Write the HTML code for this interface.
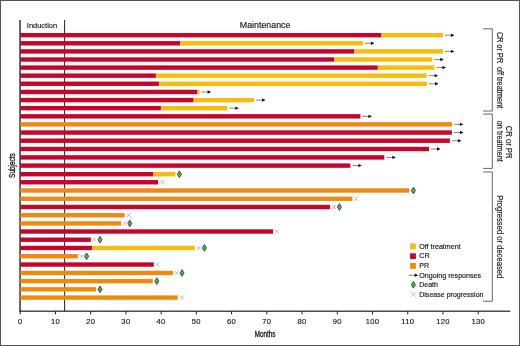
<!DOCTYPE html>
<html><head><meta charset="utf-8"><title>Swimmer plot</title>
<style>html,body{margin:0;padding:0;background:#fff}svg{display:block}</style></head>
<body>
<svg width="520" height="346" viewBox="0 0 520 346" font-family="Liberation Sans, Arial, sans-serif" fill="#151515" stroke="#151515" stroke-width="0">
<rect x="0" y="0" width="520" height="346" fill="#fff"/>
<rect x="19.3" y="20" width="1.5" height="291.6" fill="#333"/>
<rect x="19.5" y="310.6" width="490.8" height="1.2" fill="#222"/>
<rect x="19.70" y="311" width="1" height="3.4" fill="#222"/>
<text stroke-width="0.15" x="20.20" y="323.9" font-size="7.6" text-anchor="middle" letter-spacing="0.3">0</text>
<rect x="54.93" y="311" width="1" height="3.4" fill="#222"/>
<text stroke-width="0.15" x="55.43" y="323.9" font-size="7.6" text-anchor="middle" letter-spacing="0.3">10</text>
<rect x="90.16" y="311" width="1" height="3.4" fill="#222"/>
<text stroke-width="0.15" x="90.66" y="323.9" font-size="7.6" text-anchor="middle" letter-spacing="0.3">20</text>
<rect x="125.39" y="311" width="1" height="3.4" fill="#222"/>
<text stroke-width="0.15" x="125.89" y="323.9" font-size="7.6" text-anchor="middle" letter-spacing="0.3">30</text>
<rect x="160.62" y="311" width="1" height="3.4" fill="#222"/>
<text stroke-width="0.15" x="161.12" y="323.9" font-size="7.6" text-anchor="middle" letter-spacing="0.3">40</text>
<rect x="195.85" y="311" width="1" height="3.4" fill="#222"/>
<text stroke-width="0.15" x="196.35" y="323.9" font-size="7.6" text-anchor="middle" letter-spacing="0.3">50</text>
<rect x="231.08" y="311" width="1" height="3.4" fill="#222"/>
<text stroke-width="0.15" x="231.58" y="323.9" font-size="7.6" text-anchor="middle" letter-spacing="0.3">60</text>
<rect x="266.31" y="311" width="1" height="3.4" fill="#222"/>
<text stroke-width="0.15" x="266.81" y="323.9" font-size="7.6" text-anchor="middle" letter-spacing="0.3">70</text>
<rect x="301.54" y="311" width="1" height="3.4" fill="#222"/>
<text stroke-width="0.15" x="302.04" y="323.9" font-size="7.6" text-anchor="middle" letter-spacing="0.3">80</text>
<rect x="336.77" y="311" width="1" height="3.4" fill="#222"/>
<text stroke-width="0.15" x="337.27" y="323.9" font-size="7.6" text-anchor="middle" letter-spacing="0.3">90</text>
<rect x="372.00" y="311" width="1" height="3.4" fill="#222"/>
<text stroke-width="0.15" x="372.50" y="323.9" font-size="7.6" text-anchor="middle" letter-spacing="0.3">100</text>
<rect x="407.23" y="311" width="1" height="3.4" fill="#222"/>
<text stroke-width="0.15" x="407.73" y="323.9" font-size="7.6" text-anchor="middle" letter-spacing="0.3">110</text>
<rect x="442.46" y="311" width="1" height="3.4" fill="#222"/>
<text stroke-width="0.15" x="442.96" y="323.9" font-size="7.6" text-anchor="middle" letter-spacing="0.3">120</text>
<rect x="477.69" y="311" width="1" height="3.4" fill="#222"/>
<text stroke-width="0.15" x="478.19" y="323.9" font-size="7.6" text-anchor="middle" letter-spacing="0.3">130</text>
<rect x="64.1" y="20" width="1" height="291" fill="#222"/>
<rect x="20.20" y="33.00" width="361.10" height="4.4" fill="#c4062a"/>
<rect x="381.30" y="33.00" width="61.60" height="4.4" fill="#f6bc12"/>
<line x1="444.90" y1="35.20" x2="451.90" y2="35.20" stroke="#333" stroke-width="0.6"/><path d="M450.90 33.50L454.50 35.20L450.90 36.90Z" fill="#111" stroke="none"/>
<rect x="20.20" y="41.10" width="160.10" height="4.4" fill="#c4062a"/>
<rect x="180.30" y="41.10" width="182.60" height="4.4" fill="#f6bc12"/>
<line x1="364.90" y1="43.30" x2="371.90" y2="43.30" stroke="#333" stroke-width="0.6"/><path d="M370.90 41.60L374.50 43.30L370.90 45.00Z" fill="#111" stroke="none"/>
<rect x="20.20" y="49.20" width="334.20" height="4.4" fill="#c4062a"/>
<rect x="354.40" y="49.20" width="88.50" height="4.4" fill="#f6bc12"/>
<line x1="444.90" y1="51.40" x2="451.90" y2="51.40" stroke="#333" stroke-width="0.6"/><path d="M450.90 49.70L454.50 51.40L450.90 53.10Z" fill="#111" stroke="none"/>
<rect x="20.20" y="57.30" width="314.10" height="4.4" fill="#c4062a"/>
<rect x="334.30" y="57.30" width="98.00" height="4.4" fill="#f6bc12"/>
<line x1="434.30" y1="59.50" x2="441.30" y2="59.50" stroke="#333" stroke-width="0.6"/><path d="M440.30 57.80L443.90 59.50L440.30 61.20Z" fill="#111" stroke="none"/>
<rect x="20.20" y="65.40" width="357.60" height="4.4" fill="#c4062a"/>
<rect x="377.80" y="65.40" width="56.60" height="4.4" fill="#f6bc12"/>
<line x1="436.40" y1="67.60" x2="443.40" y2="67.60" stroke="#333" stroke-width="0.6"/><path d="M442.40 65.90L446.00 67.60L442.40 69.30Z" fill="#111" stroke="none"/>
<rect x="20.20" y="73.45" width="135.70" height="4.4" fill="#c4062a"/>
<rect x="155.90" y="73.45" width="270.70" height="4.4" fill="#f6bc12"/>
<line x1="428.60" y1="75.65" x2="435.60" y2="75.65" stroke="#333" stroke-width="0.6"/><path d="M434.60 73.95L438.20 75.65L434.60 77.35Z" fill="#111" stroke="none"/>
<rect x="20.20" y="81.55" width="138.70" height="4.4" fill="#c4062a"/>
<rect x="158.90" y="81.55" width="268.10" height="4.4" fill="#f6bc12"/>
<line x1="429.00" y1="83.75" x2="436.00" y2="83.75" stroke="#333" stroke-width="0.6"/><path d="M435.00 82.05L438.60 83.75L435.00 85.45Z" fill="#111" stroke="none"/>
<rect x="20.20" y="89.75" width="177.20" height="4.4" fill="#c4062a"/>
<rect x="197.40" y="89.75" width="2.20" height="4.4" fill="#f6bc12"/>
<line x1="201.60" y1="91.95" x2="208.60" y2="91.95" stroke="#333" stroke-width="0.6"/><path d="M207.60 90.25L211.20 91.95L207.60 93.65Z" fill="#111" stroke="none"/>
<rect x="20.20" y="97.90" width="173.40" height="4.4" fill="#c4062a"/>
<rect x="193.60" y="97.90" width="60.40" height="4.4" fill="#f6bc12"/>
<line x1="256.00" y1="100.10" x2="263.00" y2="100.10" stroke="#333" stroke-width="0.6"/><path d="M262.00 98.40L265.60 100.10L262.00 101.80Z" fill="#111" stroke="none"/>
<rect x="20.20" y="105.95" width="140.70" height="4.4" fill="#c4062a"/>
<rect x="160.90" y="105.95" width="66.40" height="4.4" fill="#f6bc12"/>
<line x1="229.30" y1="108.15" x2="236.30" y2="108.15" stroke="#333" stroke-width="0.6"/><path d="M235.30 106.45L238.90 108.15L235.30 109.85Z" fill="#111" stroke="none"/>
<rect x="20.20" y="114.15" width="340.20" height="4.4" fill="#c4062a"/>
<line x1="362.40" y1="116.35" x2="369.40" y2="116.35" stroke="#333" stroke-width="0.6"/><path d="M368.40 114.65L372.00 116.35L368.40 118.05Z" fill="#111" stroke="none"/>
<rect x="20.20" y="122.15" width="431.70" height="4.4" fill="#ee8a14"/>
<line x1="453.90" y1="124.35" x2="460.90" y2="124.35" stroke="#333" stroke-width="0.6"/><path d="M459.90 122.65L463.50 124.35L459.90 126.05Z" fill="#111" stroke="none"/>
<rect x="20.20" y="130.35" width="431.70" height="4.4" fill="#c4062a"/>
<line x1="453.90" y1="132.55" x2="460.90" y2="132.55" stroke="#333" stroke-width="0.6"/><path d="M459.90 130.85L463.50 132.55L459.90 134.25Z" fill="#111" stroke="none"/>
<rect x="20.20" y="138.50" width="429.70" height="4.4" fill="#c4062a"/>
<line x1="451.90" y1="140.70" x2="458.90" y2="140.70" stroke="#333" stroke-width="0.6"/><path d="M457.90 139.00L461.50 140.70L457.90 142.40Z" fill="#111" stroke="none"/>
<rect x="20.20" y="146.80" width="408.80" height="4.4" fill="#c4062a"/>
<line x1="431.00" y1="149.00" x2="438.00" y2="149.00" stroke="#333" stroke-width="0.6"/><path d="M437.00 147.30L440.60 149.00L437.00 150.70Z" fill="#111" stroke="none"/>
<rect x="20.20" y="155.20" width="364.10" height="4.4" fill="#c4062a"/>
<line x1="386.30" y1="157.40" x2="393.30" y2="157.40" stroke="#333" stroke-width="0.6"/><path d="M392.30 155.70L395.90 157.40L392.30 159.10Z" fill="#111" stroke="none"/>
<rect x="20.20" y="163.40" width="330.10" height="4.4" fill="#c4062a"/>
<line x1="352.30" y1="165.60" x2="359.30" y2="165.60" stroke="#333" stroke-width="0.6"/><path d="M358.30 163.90L361.90 165.60L358.30 167.30Z" fill="#111" stroke="none"/>
<rect x="20.20" y="172.00" width="133.00" height="4.4" fill="#c4062a"/>
<rect x="153.20" y="172.00" width="22.20" height="4.4" fill="#f6bc12"/>
<path d="M179.40 170.90L181.40 174.20L179.40 177.50L177.40 174.20Z" fill="#62ad58" stroke="#1a5526" stroke-width="0.95"/>
<rect x="20.20" y="180.05" width="137.80" height="4.4" fill="#c4062a"/>
<path d="M160.10 180.05L164.50 184.45M160.10 184.45L164.50 180.05" stroke="#a29ed0" stroke-width="0.7" fill="none"/>
<rect x="20.20" y="188.30" width="389.10" height="4.4" fill="#ee8a14"/>
<path d="M413.40 187.20L415.40 190.50L413.40 193.80L411.40 190.50Z" fill="#62ad58" stroke="#1a5526" stroke-width="0.95"/>
<rect x="20.20" y="196.55" width="332.20" height="4.4" fill="#ee8a14"/>
<path d="M354.00 196.55L358.40 200.95M354.00 200.95L358.40 196.55" stroke="#a29ed0" stroke-width="0.7" fill="none"/>
<rect x="20.20" y="204.80" width="309.90" height="4.4" fill="#c4062a"/>
<path d="M331.80 204.80L336.20 209.20M331.80 209.20L336.20 204.80" stroke="#a29ed0" stroke-width="0.7" fill="none"/>
<path d="M339.40 203.70L341.40 207.00L339.40 210.30L337.40 207.00Z" fill="#62ad58" stroke="#1a5526" stroke-width="0.95"/>
<rect x="20.20" y="213.05" width="104.40" height="4.4" fill="#ee8a14"/>
<path d="M126.60 213.05L131.00 217.45M126.60 217.45L131.00 213.05" stroke="#a29ed0" stroke-width="0.7" fill="none"/>
<rect x="20.20" y="221.25" width="100.80" height="4.4" fill="#ee8a14"/>
<path d="M122.60 221.25L127.00 225.65M122.60 225.65L127.00 221.25" stroke="#a29ed0" stroke-width="0.7" fill="none"/>
<path d="M129.80 220.15L131.80 223.45L129.80 226.75L127.80 223.45Z" fill="#62ad58" stroke="#1a5526" stroke-width="0.95"/>
<rect x="20.20" y="229.30" width="252.90" height="4.4" fill="#c4062a"/>
<path d="M274.80 229.30L279.20 233.70M274.80 233.70L279.20 229.30" stroke="#a29ed0" stroke-width="0.7" fill="none"/>
<rect x="20.20" y="237.50" width="70.60" height="4.4" fill="#c4062a"/>
<path d="M92.30 237.50L96.70 241.90M92.30 241.90L96.70 237.50" stroke="#a29ed0" stroke-width="0.7" fill="none"/>
<path d="M100.00 236.40L102.00 239.70L100.00 243.00L98.00 239.70Z" fill="#62ad58" stroke="#1a5526" stroke-width="0.95"/>
<rect x="20.20" y="245.75" width="71.90" height="4.4" fill="#c4062a"/>
<rect x="92.10" y="245.75" width="102.70" height="4.4" fill="#f6bc12"/>
<path d="M196.90 245.75L201.30 250.15M196.90 250.15L201.30 245.75" stroke="#a29ed0" stroke-width="0.7" fill="none"/>
<path d="M204.40 244.65L206.40 247.95L204.40 251.25L202.40 247.95Z" fill="#62ad58" stroke="#1a5526" stroke-width="0.95"/>
<rect x="20.20" y="254.05" width="57.60" height="4.4" fill="#ee8a14"/>
<path d="M79.40 254.05L83.80 258.45M79.40 258.45L83.80 254.05" stroke="#a29ed0" stroke-width="0.7" fill="none"/>
<path d="M86.60 252.95L88.60 256.25L86.60 259.55L84.60 256.25Z" fill="#62ad58" stroke="#1a5526" stroke-width="0.95"/>
<rect x="20.20" y="262.35" width="133.60" height="4.4" fill="#c4062a"/>
<path d="M155.10 262.35L159.50 266.75M155.10 266.75L159.50 262.35" stroke="#a29ed0" stroke-width="0.7" fill="none"/>
<rect x="20.20" y="270.75" width="152.70" height="4.4" fill="#ee8a14"/>
<path d="M174.50 270.75L178.90 275.15M174.50 275.15L178.90 270.75" stroke="#a29ed0" stroke-width="0.7" fill="none"/>
<path d="M182.00 269.65L184.00 272.95L182.00 276.25L180.00 272.95Z" fill="#62ad58" stroke="#1a5526" stroke-width="0.95"/>
<rect x="20.20" y="278.95" width="132.60" height="4.4" fill="#ee8a14"/>
<path d="M156.80 277.85L158.80 281.15L156.80 284.45L154.80 281.15Z" fill="#62ad58" stroke="#1a5526" stroke-width="0.95"/>
<rect x="20.20" y="287.15" width="76.00" height="4.4" fill="#ee8a14"/>
<path d="M100.00 286.05L102.00 289.35L100.00 292.65L98.00 289.35Z" fill="#62ad58" stroke="#1a5526" stroke-width="0.95"/>
<rect x="20.20" y="295.40" width="157.50" height="4.4" fill="#ee8a14"/>
<path d="M179.80 295.40L184.20 299.80M179.80 299.80L184.20 295.40" stroke="#a29ed0" stroke-width="0.7" fill="none"/>
<text stroke-width="0.15" x="26.8" y="27.6" font-size="7.8" textLength="30.4" lengthAdjust="spacingAndGlyphs">Induction</text>
<text stroke-width="0.15" x="239.8" y="27.6" font-size="9" textLength="50.6" lengthAdjust="spacingAndGlyphs">Maintenance</text>
<text stroke-width="0.35" transform="translate(15.1 177.9) rotate(-90)" font-size="9.6" textLength="24.6" lengthAdjust="spacingAndGlyphs">Subjects</text>
<text stroke-width="0.35" x="254.8" y="337" font-size="9.8" textLength="20.6" lengthAdjust="spacingAndGlyphs">Months</text>
<path d="M483.2 28.8H492.3V111.0H483.2" fill="none" stroke="#555" stroke-width="0.9"/>
<path d="M483.2 114.1H492.3V168.4H483.2" fill="none" stroke="#555" stroke-width="0.9"/>
<path d="M483.2 172.0H492.3V301.3H483.2" fill="none" stroke="#555" stroke-width="0.9"/>
<text stroke-width="0.15" transform="translate(497 31.9) rotate(90)" font-size="8.2"><tspan x="0" textLength="31.4" lengthAdjust="spacingAndGlyphs">CR or PR</tspan><tspan> </tspan><tspan x="35.0" textLength="41.4" lengthAdjust="spacingAndGlyphs">off treatment</tspan></text>
<text stroke-width="0.15" transform="translate(505.8 125.8) rotate(90)" font-size="8.2" textLength="32.6" lengthAdjust="spacingAndGlyphs">CR or PR</text>
<text stroke-width="0.15" transform="translate(497.4 120.8) rotate(90)" font-size="8.2" textLength="41" lengthAdjust="spacingAndGlyphs">on treatment</text>
<text stroke-width="0.15" transform="translate(497 195.2) rotate(90)" font-size="8.2" textLength="83" lengthAdjust="spacingAndGlyphs">Progressed or deceased</text>
<rect x="410.1" y="243.4" width="5.8" height="5.9" fill="#f6bc12"/>
<rect x="410.1" y="253.3" width="5.8" height="5.8" fill="#c4062a"/>
<rect x="410.1" y="263.0" width="5.8" height="5.9" fill="#ee8a14"/>
<line x1="408.60" y1="275.30" x2="415.60" y2="275.30" stroke="#333" stroke-width="0.6"/><path d="M414.60 273.60L418.20 275.30L414.60 277.00Z" fill="#111" stroke="none"/>
<path d="M413.40 281.50L415.40 284.80L413.40 288.10L411.40 284.80Z" fill="#62ad58" stroke="#1a5526" stroke-width="0.95"/>
<path d="M410.90 291.80L415.90 296.80M410.90 296.80L415.90 291.80" stroke="#a29ed0" stroke-width="0.7" fill="none"/>
<text stroke-width="0.15" x="419.2" y="249.0" font-size="7.4" textLength="41.5" lengthAdjust="spacingAndGlyphs">Off treatment</text>
<text stroke-width="0.15" x="419.2" y="258.4" font-size="7.4" textLength="10.5" lengthAdjust="spacingAndGlyphs">CR</text>
<text stroke-width="0.15" x="419.2" y="268.0" font-size="7.4" textLength="9.8" lengthAdjust="spacingAndGlyphs">PR</text>
<text stroke-width="0.15" x="419.2" y="277.6" font-size="7.4" textLength="62" lengthAdjust="spacingAndGlyphs">Ongoing responses</text>
<text stroke-width="0.15" x="419.2" y="287.2" font-size="7.4" textLength="18.8" lengthAdjust="spacingAndGlyphs">Death</text>
<text stroke-width="0.15" x="419.2" y="296.6" font-size="7.4" textLength="64.3" lengthAdjust="spacingAndGlyphs">Disease progression</text>
<rect x="0.5" y="0.5" width="519" height="345" fill="none" stroke="#555" stroke-width="1"/>
</svg>
</body></html>
